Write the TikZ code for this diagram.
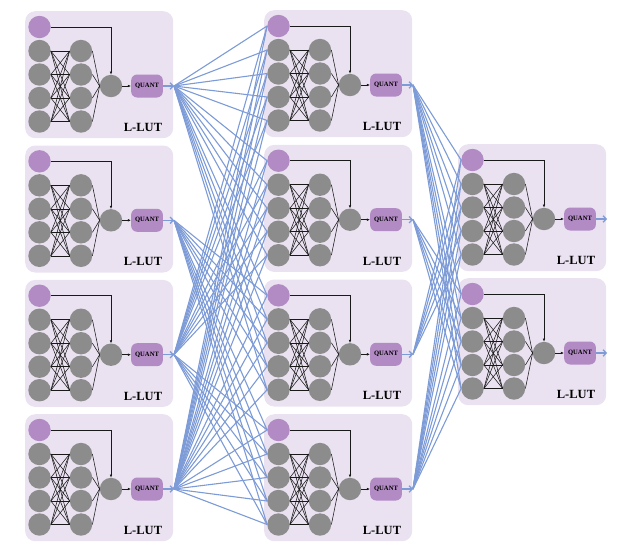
\documentclass[tikz,border=0pt]{standalone}
\usepackage{fontspec}
\setmainfont{Liberation Serif}
\usetikzlibrary{arrows.meta}
\definecolor{lutbg}{RGB}{234,226,240}
\definecolor{lutpurple}{RGB}{178,138,196}
\definecolor{lutgray}{RGB}{140,140,140}
\definecolor{lutblue}{RGB}{125,155,215}
\tikzset{
 neuron/.style={circle,fill=lutgray,minimum size=22.4pt,inner sep=0pt},
 bias/.style={circle,fill=lutpurple,minimum size=22.4pt,inner sep=0pt},
 lutbox/.style={fill=lutbg,rounded corners=10pt,minimum width=148pt,minimum height=127pt,inner sep=0pt,anchor=north west},
 quant/.style={fill=lutpurple,rounded corners=6pt,minimum width=31.7pt,minimum height=23pt,inner sep=0pt,font=\fontsize{6.6}{7}\selectfont\bfseries},
 lutlabel/.style={font=\fontsize{12.5}{14}\selectfont\bfseries,inner sep=0pt},
 wire/.style={line width=0.55pt,black!90},
 wirearrow/.style={wire,-{Latex[length=3pt,width=2.6pt]}},
 fan/.style={line width=1.1pt,lutblue},
 outarrow/.style={line width=1.3pt,lutblue,-{Straight Barb[length=3pt,width=6.5pt]}},
}
\newcommand\lutblock[3]{%
\begin{scope}[shift={(#2,#3)}]
\node[lutbox] (#1-bg) at (0,0) {};
\node[bias] (#1-p) at (14.5,16) {};
\node[neuron] (#1-a1) at (14.5,40) {};
\node[neuron] (#1-a2) at (14.5,63.5) {};
\node[neuron] (#1-a3) at (14.5,87) {};
\node[neuron] (#1-a4) at (14.5,110.5) {};
\node[neuron] (#1-b1) at (56,40) {};
\node[neuron] (#1-b2) at (56,63.5) {};
\node[neuron] (#1-b3) at (56,87) {};
\node[neuron] (#1-b4) at (56,110.5) {};
\node[neuron] (#1-o) at (86,75) {};
\node[quant] (#1-q) at (122,75) {QUANT};
\node[lutlabel] (#1-l) at (118,116.5) {L-LUT};
\coordinate (#1-out) at (149,75);
\foreach \i in {1,...,4}{%
  \foreach \j in {1,...,4}{\draw[wire] (#1-a\i.east) -- (#1-b\j.west);}
  \draw[wire] (#1-b\i.east) -- (#1-o.west);}
\draw[wirearrow] (#1-p.east) -| (#1-o.north);
\draw[wirearrow] (#1-o.east) -- (#1-q.west);
\draw[outarrow] (#1-q.east) -- (#1-out);
\end{scope}}
\begin{document}
\begin{tikzpicture}[x=1pt,y=-1pt]
\useasboundingbox (0,0) rectangle (623,558);
\lutblock{A1}{25}{11}
\lutblock{A2}{25}{145.3}
\lutblock{A3}{25}{279.7}
\lutblock{A4}{25}{414}
\lutblock{B1}{264}{10}
\lutblock{B2}{264}{144.7}
\lutblock{B3}{264}{279.3}
\lutblock{B4}{264}{414}
\lutblock{C1}{458}{144}
\lutblock{C2}{458}{278}
\foreach \s/\t in {A1/B1,A3/B1,A4/B1,A1/B2,A3/B2,A4/B2,A1/B3,A2/B3,A4/B3,A2/B4,A3/B4,A4/B4,
                   B1/C1,B3/C1,B4/C1,B1/C2,B2/C2,B4/C2}{
  \foreach \n in {p,a1,a2,a3,a4}{\draw[fan] (\s-out) -- (\t-\n.west);}}
\end{tikzpicture}
\end{document}
